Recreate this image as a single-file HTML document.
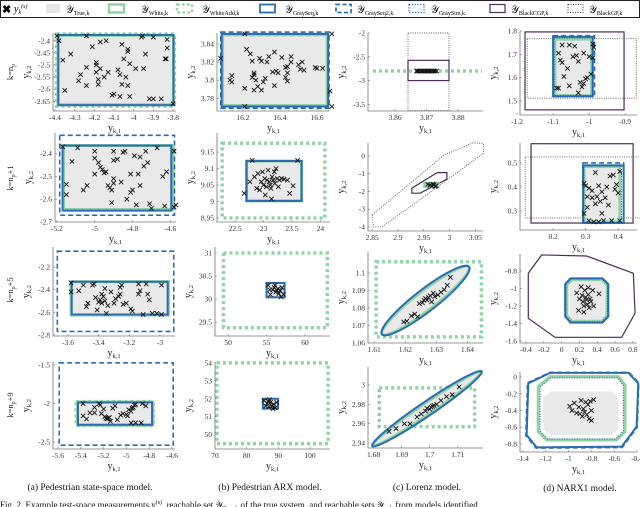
<!DOCTYPE html>
<html><head><meta charset="utf-8">
<style>
html,body{margin:0;padding:0;background:#fff;}
svg{display:block;font-family:"Liberation Serif",serif;}
</style></head>
<body>
<svg id="fig" width="640" height="507" viewBox="0 0 640 507" xmlns="http://www.w3.org/2000/svg">
<g id="legend">
<rect x="0.5" y="0.5" width="639" height="17" fill="#fff" stroke="#222" stroke-width="1"/>
<text x="2" y="13" font-size="11" font-weight="bold" font-family="Liberation Sans,sans-serif">✖</text>
<text x="14" y="12" font-size="10" font-style="italic">y<tspan font-size="6" dy="2">k</tspan><tspan font-size="6" dy="-6">(s)</tspan></text>
<rect x="46" y="4" width="14" height="9" fill="#e6e6e6"/>
<text x="66" y="13" font-size="10">𝒴<tspan font-size="6" dy="2">True,k</tspan></text>
<rect x="109" y="4.5" width="15" height="8" fill="none" stroke="#8fd3a6" stroke-width="2.5"/>
<text x="141" y="13" font-size="10">𝒴<tspan font-size="6" dy="2">White,k</tspan></text>
<rect x="177" y="4.5" width="15" height="8" fill="none" stroke="#8fd3a6" stroke-width="2.5" stroke-dasharray="2.5,2.5"/>
<text x="202" y="13" font-size="10">𝒴<tspan font-size="6" dy="2">WhiteAdd,k</tspan></text>
<rect x="260" y="4.5" width="15" height="8" fill="none" stroke="#2b6cb0" stroke-width="1.8"/>
<text x="285" y="13" font-size="10">𝒴<tspan font-size="6" dy="2">GraySeq,k</tspan></text>
<rect x="336" y="4.5" width="15" height="8" fill="none" stroke="#2b6cb0" stroke-width="1.8" stroke-dasharray="4,2.5"/>
<text x="357" y="13" font-size="10">𝒴<tspan font-size="6" dy="2">GraySeq2,k</tspan></text>
<rect x="409" y="4.5" width="15" height="8" fill="none" stroke="#2b6cb0" stroke-width="1.3" stroke-dasharray="1.2,1.6"/>
<text x="431" y="13" font-size="10">𝒴<tspan font-size="6" dy="2">GraySim,k</tspan></text>
<rect x="490" y="4.5" width="15" height="8" fill="none" stroke="#4a2d57" stroke-width="1.2"/>
<text x="511" y="13" font-size="10">𝒴<tspan font-size="6" dy="2">BlackCGP,k</tspan></text>
<rect x="568" y="4.5" width="15" height="8" fill="none" stroke="#4a2d57" stroke-width="1" stroke-dasharray="1,1.5"/>
<text x="589" y="13" font-size="10">𝒴<tspan font-size="6" dy="2">BlackGP,k</tspan></text>
</g>
<g id="panels"></g>
<g font-size="9.5" fill="#111" text-anchor="middle">
<text x="90" y="490">(a) Pedestrian state-space model.</text>
<text x="270" y="490">(b) Pedestrian ARX model.</text>
<text x="427" y="490">(c) Lorenz model.</text>
<text x="580" y="491">(d) NARX1 model.</text>
</g>
<text x="0" y="508" font-size="9" fill="#111">Fig. 2.   Example test-space measurements y<tspan font-size="6" dy="-4">(s)</tspan><tspan dy="4">, reachable set 𝒴</tspan><tspan font-size="6" dy="2">True,k</tspan><tspan dy="-2"> of the true system, and reachable sets 𝒴</tspan><tspan font-size="6" dy="2">...,k</tspan><tspan dy="-2"> from models identified</tspan></text>
</svg>
<script>
// ---------- data ----------
const ptsA1=[[-4.39,-2.38],[-4.38,-2.40],[-4.36,-2.48],[-4.32,-2.455],[-4.35,-2.605],[-4.28,-2.565],[-4.27,-2.54],[-4.24,-2.38],[-4.24,-2.585],[-4.24,-2.51],[-4.21,-2.425],[-4.19,-2.49],[-4.19,-2.50],[-4.19,-2.53],[-4.18,-2.56],[-4.18,-2.58],[-4.17,-2.405],[-4.17,-2.515],[-4.15,-2.55],[-4.14,-2.40],[-4.13,-2.53],[-4.11,-2.625],[-4.10,-2.62],[-4.08,-2.52],[-4.07,-2.54],[-4.07,-2.63],[-4.06,-2.415],[-4.06,-2.58],[-4.05,-2.475],[-4.04,-2.55],[-4.03,-2.585],[-4.03,-2.435],[-4.03,-2.445],[-4.02,-2.495],[-4.02,-2.63],[-3.99,-2.515],[-3.96,-2.385],[-3.955,-2.38],[-3.95,-2.515],[-3.94,-2.455],[-3.92,-2.64],[-3.90,-2.385],[-3.90,-2.64],[-3.86,-2.64],[-3.84,-2.475],[-3.835,-2.475],[-3.83,-2.395],[-3.83,-2.43],[-3.80,-2.66]];
const ptsA2=[[-5.17,-2.37],[-5.15,-2.535],[-5.15,-2.58],[-5.12,-2.435],[-5.09,-2.375],[-5.06,-2.56],[-5.04,-2.54],[-5.0,-2.39],[-5.0,-2.42],[-5.0,-2.49],[-4.98,-2.44],[-4.97,-2.46],[-4.96,-2.47],[-4.95,-2.485],[-4.94,-2.48],[-4.93,-2.54],[-4.92,-2.55],[-4.91,-2.56],[-4.91,-2.615],[-4.9,-2.39],[-4.9,-2.43],[-4.9,-2.51],[-4.9,-2.53],[-4.88,-2.425],[-4.86,-2.525],[-4.85,-2.395],[-4.84,-2.39],[-4.83,-2.6],[-4.81,-2.57],[-4.81,-2.49],[-4.8,-2.56],[-4.79,-2.41],[-4.78,-2.625],[-4.77,-2.49],[-4.76,-2.415],[-4.76,-2.54],[-4.74,-2.455],[-4.73,-2.39],[-4.72,-2.44],[-4.71,-2.62],[-4.7,-2.64],[-4.67,-2.375],[-4.64,-2.5],[-4.62,-2.48],[-4.63,-2.63],[-4.58,-2.39],[-4.58,-2.635],[-4.57,-2.625]];
const ptsA3=[[-3.58,-2.34],[-3.58,-2.42],[-3.53,-2.41],[-3.5,-2.36],[-3.48,-2.55],[-3.47,-2.52],[-3.44,-2.36],[-3.43,-2.35],[-3.42,-2.47],[-3.41,-2.58],[-3.4,-2.51],[-3.39,-2.49],[-3.38,-2.44],[-3.38,-2.52],[-3.37,-2.46],[-3.36,-2.39],[-3.36,-2.5],[-3.35,-2.61],[-3.34,-2.54],[-3.32,-2.42],[-3.3,-2.52],[-3.29,-2.48],[-3.27,-2.46],[-3.26,-2.38],[-3.26,-2.44],[-3.25,-2.36],[-3.24,-2.53],[-3.22,-2.52],[-3.19,-2.57],[-3.18,-2.59],[-3.14,-2.35],[-3.14,-2.44],[-3.13,-2.41],[-3.11,-2.62],[-3.09,-2.35],[-3.08,-2.44],[-3.07,-2.49],[-3.05,-2.61],[-3.02,-2.61],[-2.99,-2.36],[-2.99,-2.62]];
const ptsA4=[[-5.38,-2.0],[-5.38,-2.16],[-5.35,-2.2],[-5.32,-2.12],[-5.28,-2.12],[-5.28,-2.05],[-5.24,-2.0],[-5.23,-2.02],[-5.22,-2.13],[-5.2,-2.07],[-5.19,-2.17],[-5.18,-2.19],[-5.17,-2.2],[-5.16,-2.19],[-5.15,-2.18],[-5.14,-2.23],[-5.12,-2.06],[-5.1,-2.03],[-5.08,-2.21],[-5.05,-2.15],[-5.03,-2.13],[-5.0,-2.14],[-4.99,-2.16],[-4.98,-2.08],[-4.96,-2.1],[-4.95,-2.06],[-4.94,-2.05],[-4.93,-2.02],[-4.92,-2.01],[-4.96,-2.25],[-4.92,-2.25],[-4.87,-2.25],[-4.86,-2.0],[-4.83,-2.03]];
const ptsB1=[[16.08,3.824],[16.13,3.8],[16.14,3.805],[16.14,3.798],[16.21,3.851],[16.21,3.791],[16.21,3.771],[16.22,3.834],[16.24,3.829],[16.25,3.821],[16.25,3.803],[16.26,3.806],[16.26,3.808],[16.26,3.789],[16.27,3.8],[16.28,3.793],[16.29,3.824],[16.3,3.821],[16.3,3.789],[16.31,3.798],[16.32,3.802],[16.33,3.82],[16.34,3.826],[16.36,3.809],[16.37,3.831],[16.37,3.794],[16.38,3.81],[16.39,3.808],[16.41,3.825],[16.43,3.814],[16.43,3.803],[16.44,3.799],[16.44,3.815],[16.44,3.808],[16.46,3.826],[16.46,3.82],[16.5,3.817],[16.51,3.812],[16.52,3.82],[16.53,3.811],[16.59,3.814],[16.6,3.813],[16.63,3.813],[16.67,3.788],[16.68,3.851],[16.68,3.771]];
const ptsB2=[[22.66,9.025],[22.76,9.06],[22.8,9.125],[22.84,9.075],[22.88,9.04],[22.9,9.085],[22.93,9.035],[22.96,9.06],[22.98,9.09],[23.0,9.05],[23.02,9.07],[23.03,9.02],[23.05,9.045],[23.06,9.065],[23.08,9.095],[23.1,9.06],[23.12,9.05],[23.13,9.04],[23.14,9.008],[23.15,9.075],[23.17,9.065],[23.19,9.09],[23.2,9.055],[23.22,9.1],[23.24,9.07],[23.26,9.045],[23.28,9.065],[23.32,9.07],[23.36,9.068],[23.42,9.065],[23.46,9.025],[23.52,9.048],[23.6,9.125]];
const ptsB3=[[55.2,30.3],[55.5,30.1],[55.8,30.2],[56.0,30.25],[56.2,30.15],[56.3,30.2],[56.5,30.22],[56.6,30.12],[56.8,30.18],[57.0,30.25],[57.2,30.1],[56.1,30.3],[55.4,30.2],[56.9,30.05]];
const ptsB4=[[85.5,51.9],[86.0,51.6],[86.5,51.75],[87.0,51.55],[87.5,51.8],[88.0,51.6],[88.5,51.7],[89.0,51.5],[89.5,51.8],[87.2,51.95],[88.3,51.45],[86.8,51.85]];
const ptsC1=[[3.8668,-2.8],[3.8672,-2.8],[3.8677,-2.8],[3.8682,-2.8],[3.8687,-2.8],[3.8692,-2.8],[3.8697,-2.8],[3.8702,-2.8],[3.8707,-2.8],[3.8712,-2.8],[3.8717,-2.8],[3.8722,-2.8],[3.8727,-2.8],[3.8732,-2.8]];
const ptsC2=[[2.958,-1.6],[2.962,-1.65],[2.966,-1.7],[2.97,-1.62],[2.974,-1.68],[2.968,-1.58],[2.972,-1.72]];
const ptsC3=[[1.6195,1.072],[1.6205,1.0725],[1.622,1.0755],[1.623,1.0765],[1.624,1.075],[1.6245,1.0825],[1.6255,1.083],[1.626,1.0845],[1.6265,1.0855],[1.627,1.0845],[1.6275,1.086],[1.628,1.087],[1.6285,1.0835],[1.629,1.0885],[1.6295,1.0865],[1.6305,1.0875],[1.6315,1.089],[1.6325,1.0905],[1.6335,1.093],[1.6345,1.0975]];
const ptsC4=[[1.6855,2.952],[1.688,2.955],[1.691,2.96],[1.693,2.96],[1.6955,2.967],[1.697,2.97],[1.6985,2.973],[1.699,2.976],[1.7,2.975],[1.7005,2.977],[1.701,2.978],[1.7015,2.979],[1.7025,2.98],[1.704,2.984],[1.706,2.988],[1.708,2.99],[1.7105,2.998]];
const ptsD1=[[-1.09,1.555],[-1.085,1.555],[-1.085,1.705],[-1.08,1.675],[-1.075,1.74],[-1.075,1.665],[-1.07,1.605],[-1.06,1.64],[-1.055,1.565],[-1.055,1.74],[-1.045,1.69],[-1.04,1.735],[-1.035,1.695],[-1.03,1.67],[-1.03,1.535],[-1.025,1.58],[-1.02,1.56],[-1.015,1.705],[-1.015,1.575],[-1.01,1.595],[-1.005,1.6],[-1.0,1.69],[-0.995,1.615],[-0.99,1.685],[-0.99,1.745],[-0.987,1.73]];
const ptsD2=[[0.295,0.415],[0.295,0.29],[0.3,0.405],[0.305,0.36],[0.305,0.315],[0.31,0.395],[0.31,0.26],[0.32,0.355],[0.32,0.385],[0.325,0.255],[0.33,0.46],[0.33,0.33],[0.335,0.36],[0.34,0.405],[0.34,0.255],[0.345,0.34],[0.35,0.38],[0.35,0.29],[0.355,0.26],[0.36,0.355],[0.365,0.4],[0.37,0.325],[0.375,0.445],[0.38,0.26],[0.385,0.45],[0.39,0.39],[0.395,0.41],[0.4,0.375],[0.405,0.465],[0.405,0.26]];
const ptsD3=[[0.17,-1.05],[0.19,-1.25],[0.2,-1.12],[0.22,-0.98],[0.23,-1.08],[0.24,-1.15],[0.25,-1.2],[0.26,-1.02],[0.27,-1.1],[0.28,-1.13],[0.29,-1.18],[0.3,-0.99],[0.31,-1.22],[0.32,-1.12],[0.33,-1.15],[0.35,-1.02],[0.36,-1.2],[0.42,-1.06],[0.25,-1.27],[0.3,-1.07]];
const ptsD4=[[-0.99,-0.35],[-0.97,-0.4],[-0.95,-0.31],[-0.93,-0.43],[-0.91,-0.36],[-0.9,-0.44],[-0.89,-0.28],[-0.88,-0.47],[-0.87,-0.38],[-0.86,-0.42],[-0.85,-0.3],[-0.84,-0.45],[-0.83,-0.33],[-0.82,-0.5],[-0.81,-0.29],[-0.8,-0.4],[-0.8,-0.52],[-0.78,-0.27]];

// ---------- styles ----------
const ST={
 true:{fill:'#e9e9e9',stroke:'none'},
 white:{fill:'none',stroke:'#8fd3a6','stroke-width':3},
 whiteAdd:{fill:'none',stroke:'#8fd3a6','stroke-width':3.5,'stroke-dasharray':'3,3'},
 gray:{fill:'none',stroke:'#2b6cb0','stroke-width':2},
 gray2:{fill:'none',stroke:'#2b6cb0','stroke-width':1.6,'stroke-dasharray':'5,3'},
 graySim:{fill:'none',stroke:'#1f5a99','stroke-width':1,'stroke-dasharray':'1,1.5'},
 cgp:{fill:'none',stroke:'#4a2d57','stroke-width':1.2},
 gp:{fill:'none',stroke:'#555','stroke-width':0.9,'stroke-dasharray':'1,1.3'}
};
const R=(s,x0,x1,y0,y1)=>({t:'rect',s,x0,x1,y0,y1});
const P=(s,pts)=>({t:'poly',s,pts});
const E=(s,p1,p2,hw)=>({t:'ell',s,p1,p2,hw});
const L=(s,p1,p2)=>({t:'line',s,p1,p2});

const panels=[
 {id:'a1',box:[53,33,176,111],xr:[-4.41,-3.785],yr:[-2.69,-2.368],xt:[-4.4,-4.3,-4.2,-4.1,-4,-3.9,-3.8],yt:[-2.65,-2.6,-2.55,-2.5,-2.45,-2.4],
  sh:[R('true',-4.38,-3.8,-2.666,-2.376),R('whiteAdd',-4.392,-3.793,-2.67,-2.372),R('white',-4.385,-3.797,-2.664,-2.378),R('gray',-4.383,-3.798,-2.666,-2.376),R('gray2',-4.383,-3.798,-2.666,-2.376)],pts:ptsA1},
 {id:'b1',box:[217,33,330,111],xr:[16.06,16.67],yr:[3.766,3.852],xt:[16.2,16.4,16.6],yt:[3.78,3.8,3.82,3.84],
  sh:[R('true',16.09,16.655,3.771,3.851),R('white',16.09,16.655,3.772,3.85),R('gray',16.085,16.66,3.771,3.851),R('gray2',16.08,16.665,3.769,3.853)],pts:ptsB1},
 {id:'c1',box:[368,33,483,111],xr:[3.8514,3.8879],yr:[-3.64,-2.0],xt:[3.86,3.87,3.88],yt:[-3.5,-3,-2.5,-2],
  sh:[R('gp',3.8641,3.8771,-3.63,-2.0),R('cgp',3.8641,3.8771,-3.0,-2.575),L('whiteAdd',[3.853,-2.8],[3.8876,-2.8])],pts:ptsC1},
 {id:'d1',box:[520,31,637,115],xr:[-1.192,-0.867],yr:[1.44,1.8],xt:[-1.2,-1.1,-1,-0.9],yt:[1.5,1.6,1.7,1.8],
  sh:[R('cgp',-1.178,-0.903,1.462,1.796),R('gp',-1.172,-0.869,1.512,1.767),R('true',-1.098,-0.99,1.525,1.775),R('white',-1.095,-0.993,1.523,1.765),R('gray',-1.1,-0.99,1.52,1.775),R('gray2',-1.1,-0.985,1.52,1.78),R('graySim',-1.097,-0.99,1.524,1.77)],pts:ptsD1},

 {id:'a2',box:[55,133,176,222],xr:[-5.21,-4.57],yr:[-2.7,-2.31],xt:[-5.2,-5,-4.8,-4.6],yt:[-2.7,-2.6,-2.5,-2.4],
  sh:[R('true',-5.17,-4.595,-2.65,-2.365),R('white',-5.165,-4.585,-2.645,-2.365),R('gray',-5.17,-4.595,-2.65,-2.365),R('gray2',-5.185,-4.578,-2.67,-2.32)],pts:ptsA2},
 {id:'b2',box:[217,133,330,222],xr:[22.18,24.17],yr:[8.938,9.208],xt:[22.5,23,23.5,24],yt:[8.95,9,9.05,9.1,9.15],
  sh:[R('whiteAdd',22.27,24.08,8.95,9.177),R('true',22.7,23.67,9.002,9.123),R('white',22.7,23.67,9.002,9.123),R('gray',22.7,23.67,9.002,9.123),R('gray2',22.7,23.67,9.002,9.123)],pts:ptsB2},
 {id:'c2',box:[368,143,483,231],xr:[2.842,3.065],yr:[-4.23,0.73],xt:[2.85,2.9,2.95,3,3.05],yt:[-4,-3,-2,-1,0],
  sh:[P('gp',[[2.85,-3.32],[2.853,-4.0],[2.869,-4.0],[2.924,-2.86],[3.066,0.15],[3.066,0.68],[3.047,0.75],[2.99,0.06]]),
      P('cgp',[[2.927,-1.82],[2.927,-2.1],[2.943,-2.1],[2.995,-1.31],[2.995,-0.94],[2.976,-0.94]]),
      R('white',2.952,2.978,-1.72,-1.55)],pts:ptsC2},
 {id:'d2',box:[520,143,637,230],xr:[0.098,0.458],yr:[0.221,0.583],xt:[0.2,0.3,0.4],yt:[0.3,0.4,0.5],
  sh:[R('cgp',0.132,0.446,0.25,0.58),R('gp',0.114,0.47,0.271,0.525),R('true',0.292,0.41,0.252,0.49),R('white',0.295,0.405,0.255,0.485),R('gray',0.292,0.417,0.25,0.49),R('gray2',0.292,0.417,0.25,0.5),R('graySim',0.295,0.41,0.253,0.487)],pts:ptsD2},

 {id:'a3',box:[53,247,175,336],xr:[-3.698,-2.902],yr:[-2.81,-2.023],xt:[-3.6,-3.4,-3.2,-3],yt:[-2.8,-2.6,-2.4,-2.2],
  sh:[R('true',-3.576,-2.95,-2.62,-2.33),R('white',-3.58,-2.945,-2.625,-2.33),R('gray',-3.576,-2.95,-2.62,-2.33),R('gray2',-3.67,-2.91,-2.77,-2.06)],pts:ptsA3},
 {id:'b3',box:[215,247,330,336],xr:[48.3,63.25],yr:[29.2,31.13],xt:[50,55,60],yt:[29.5,30,30.5,31],
  sh:[R('whiteAdd',49.4,62.9,29.38,31.0),R('true',55.0,57.35,30.04,30.35),R('gray',55.0,57.35,30.04,30.35),R('gray2',55.0,57.35,30.04,30.35)],pts:ptsB3},
 {id:'c3',box:[368,252,483,343],xr:[1.608,1.645],yr:[1.06,1.112],xt:[1.61,1.62,1.63,1.64],yt:[1.06,1.07,1.08,1.09,1.1],
  sh:[R('whiteAdd',1.6106,1.6445,1.0635,1.1064),E('true',[1.6125,1.065],[1.6405,1.1035],10),E('white',[1.6125,1.065],[1.6405,1.1035],9.5),E('gray',[1.6125,1.065],[1.6405,1.1035],11)],pts:ptsC3},
 {id:'d3',box:[520,254,637,343],xr:[-0.467,0.847],yr:[-1.623,-0.606],xt:[-0.4,-0.2,0,0.2,0.4,0.6,0.8],yt:[-1.6,-1.4,-1.2,-1,-0.8],
  sh:[P('cgp',[[-0.374,-0.826],[-0.224,-0.617],[0.282,-0.629],[0.806,-0.826],[0.825,-1.283],[0.675,-1.558],[-0.074,-1.558],[-0.374,-1.341]]),
      P('true',[[0.09,-0.97],[0.14,-0.92],[0.44,-0.92],[0.49,-0.98],[0.49,-1.3],[0.44,-1.36],[0.14,-1.36],[0.09,-1.3]]),
      P('white',[[0.06,-0.96],[0.12,-0.9],[0.45,-0.9],[0.51,-0.96],[0.51,-1.31],[0.45,-1.375],[0.12,-1.375],[0.06,-1.31]]),
      P('gray',[[0.04,-0.95],[0.1,-0.885],[0.46,-0.885],[0.525,-0.95],[0.525,-1.32],[0.46,-1.39],[0.1,-1.39],[0.04,-1.32]]),
      P('graySim',[[0.05,-0.955],[0.11,-0.89],[0.455,-0.89],[0.515,-0.955],[0.515,-1.315],[0.455,-1.38],[0.11,-1.38],[0.05,-1.315]])],pts:ptsD3},

 {id:'a4',box:[53,362,175,449],xr:[-5.644,-4.574],yr:[-2.59,-1.46],xt:[-5.6,-5.4,-5.2,-5,-4.8,-4.6],yt:[-2.5,-2,-1.5],
  sh:[R('true',-5.43,-4.77,-2.28,-1.98),R('whiteAdd',-5.44,-4.765,-2.285,-1.975),R('white',-5.43,-4.77,-2.28,-1.98),R('gray',-5.425,-4.775,-2.275,-1.985),R('gray2',-5.59,-4.59,-2.54,-1.47)],pts:ptsA4},
 {id:'b4',box:[215,362,330,449],xr:[70,106.3],yr:[49.2,54.05],xt:[70,80,90,100],yt:[50,51,52,53,54],
  sh:[R('whiteAdd',70.6,105.7,49.5,54.0),R('true',85.1,89.9,51.45,52.0),R('gray',85.1,89.9,51.45,52.0)],pts:ptsB4},
 {id:'c4',box:[368,367,483,448],xr:[1.678,1.719],yr:[2.9349,3.0186],xt:[1.68,1.69,1.7,1.71],yt:[2.94,2.96,2.98,3],
  sh:[R('whiteAdd',1.682,1.716,2.957,2.997),E('true',[1.6795,2.937],[1.7185,3.014],6),E('white',[1.6795,2.937],[1.7185,3.014],5.5),E('gray',[1.6795,2.937],[1.7185,3.014],7)],pts:ptsC4},
 {id:'d4',box:[520,372,637,452],xr:[-1.426,-0.4],yr:[-0.896,0.06],xt:[-1.4,-1.2,-1,-0.8,-0.6,-0.4],yt:[-0.8,-0.6,-0.4,-0.2,0],
  sh:[P('true',[[-1.222,-0.25],[-1.16,-0.175],[-0.62,-0.175],[-0.564,-0.25],[-0.564,-0.62],[-0.62,-0.693],[-1.16,-0.693],[-1.222,-0.62]]),
      P('white',[[-1.266,-0.115],[-1.163,0.005],[-0.564,0.005],[-0.505,-0.096],[-0.505,-0.653],[-0.578,-0.752],[-1.192,-0.752],[-1.266,-0.653]]),
      P('graySim',[[-1.25,-0.12],[-1.155,-0.01],[-0.57,-0.01],[-0.52,-0.1],[-0.52,-0.645],[-0.585,-0.74],[-1.185,-0.74],[-1.25,-0.645]]),
      P('gray',[[-1.353,-0.076],[-1.163,0.05],[-0.476,0.05],[-0.389,-0.076],[-0.403,-0.593],[-0.534,-0.832],[-1.28,-0.84],[-1.368,-0.693]]),
      P('gray2',[[-1.36,-0.07],[-1.165,0.055],[-0.47,0.055],[-0.385,-0.07],[-0.398,-0.6],[-0.53,-0.842],[-1.285,-0.85],[-1.375,-0.7]])],pts:ptsD4}
];
const rowLabels=[['',72],['+1',178],['+5',290],['+9',405]];

// ---------- render ----------
const NS='http://www.w3.org/2000/svg';
const root=document.getElementById('panels');
function mk(tag,attrs,parent){const e=document.createElementNS(NS,tag);for(const k in attrs)e.setAttribute(k,attrs[k]);(parent||root).appendChild(e);return e;}
function fmt(v){return String(+v.toFixed(4));}

panels.forEach(p=>{
 const [l,t,r,b]=p.box;
 const sx=v=>l+(v-p.xr[0])/(p.xr[1]-p.xr[0])*(r-l);
 const sy=v=>b-(v-p.yr[0])/(p.yr[1]-p.yr[0])*(b-t);
 const g=mk('g',{});
 
 
 p.sh.forEach(s=>{
  let e;
  const st=ST[s.s];
  if(s.t==='rect'){
   const x0=sx(s.x0),x1=sx(s.x1),y0=sy(s.y1),y1=sy(s.y0);
   e=mk('rect',Object.assign({x:x0,y:y0,width:x1-x0,height:y1-y0},st),g);
  }else if(s.t==='poly'){
   e=mk('polygon',Object.assign({points:s.pts.map(q=>sx(q[0])+','+sy(q[1])).join(' ')},st),g);
  }else if(s.t==='ell'){
   const x1=sx(s.p1[0]),y1=sy(s.p1[1]),x2=sx(s.p2[0]),y2=sy(s.p2[1]);
   const cx=(x1+x2)/2,cy=(y1+y2)/2,rx=Math.hypot(x2-x1,y2-y1)/2,ang=Math.atan2(y2-y1,x2-x1)*180/Math.PI;
   e=mk('ellipse',Object.assign({cx,cy,rx,ry:s.hw,transform:`rotate(${ang} ${cx} ${cy})`},st),g);
  }else{
   e=mk('line',Object.assign({x1:sx(s.p1[0]),y1:sy(s.p1[1]),x2:sx(s.p2[0]),y2:sy(s.p2[1])},st),g);
  }
  
  
 });
 const pg=mk('g',{stroke:'#111','stroke-width':0.9},g);
 
 
 p.pts.forEach(q=>{
  const x=sx(q[0]),y=sy(q[1]),d=2.2;
  const m=mk('path',{d:`M${x-d},${y-d}L${x+d},${y+d}M${x-d},${y+d}L${x+d},${y-d}`},pg);
  
  
 });
 const ax=mk('path',{d:`M${l},${t}V${b}H${r}`,fill:'none',stroke:'#777','stroke-width':0.8},g);
 
 
 p.xt.forEach(v=>{
  const x=sx(v);
  mk('line',{x1:x,y1:b,x2:x,y2:b-2,stroke:'#777','stroke-width':0.6},g);
  const tx=mk('text',{x:x,y:b+9,'font-size':7.5,'text-anchor':'middle',fill:'#333'},g);
  tx.textContent=fmt(v);
  
  
 });
 p.yt.forEach(v=>{
  const y=sy(v);
  mk('line',{x1:l,y1:y,x2:l+2,y2:y,stroke:'#777','stroke-width':0.6},g);
  const tx=mk('text',{x:l-3,y:y+2.5,'font-size':7.5,'text-anchor':'end',fill:'#333'},g);
  tx.textContent=fmt(v);
  
  
 });
 const xl=mk('text',{x:(l+r)/2,y:b+20,'font-size':10,'text-anchor':'middle',fill:'#222'},g);
 xl.innerHTML='y<tspan font-size="6.5" dy="2">k,1</tspan>';
 
 
 const ylx=l-24,yly=(t+b)/2;
 const yl=mk('text',{x:ylx,y:yly,'font-size':10,'text-anchor':'middle',fill:'#222',transform:`rotate(-90 ${ylx} ${yly})`},g);
 yl.innerHTML='y<tspan font-size="6.5" dy="2">k,2</tspan>';
 
 
});
rowLabels.forEach(rl=>{
 const x=13,y=rl[1];
 const tx=mk('text',{x:x,y:y,'font-size':8.5,'text-anchor':'middle',fill:'#222',transform:`rotate(-90 ${x} ${y})`});
 tx.innerHTML='k=n<tspan font-size="6" dy="2">p</tspan><tspan dy="-2">'+rl[0]+'</tspan>';
 
 
});
</script>
</body></html>
